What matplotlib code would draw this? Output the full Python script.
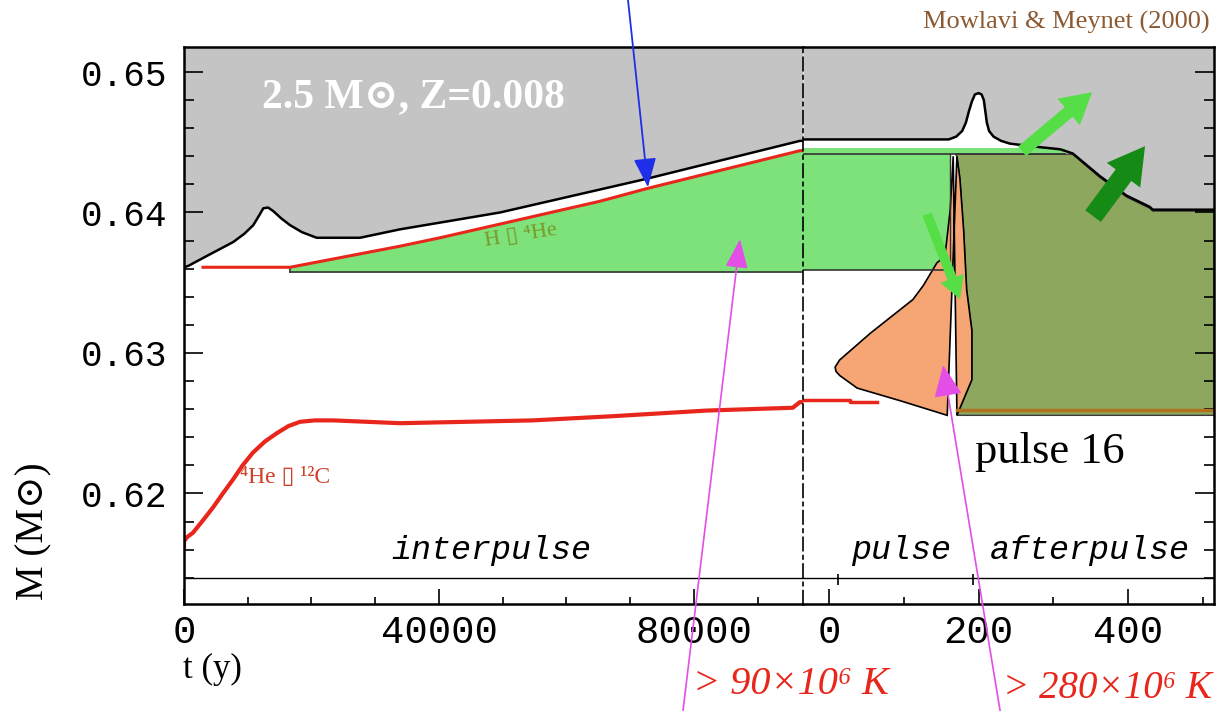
import matplotlib
matplotlib.use('Agg')
import matplotlib.pyplot as plt
from matplotlib.ticker import MultipleLocator, FixedLocator

# ---- interpulse (left panel): t in years, M in solar masses
env_t = [0, 680, 3560, 7730, 9500, 10870, 11800, 12440, 13200, 14000, 15200, 16630, 18500, 20810, 27600, 33880, 49570, 72580, 96630, 97100]
env_m = [0.6361, 0.6362, 0.6369, 0.6379, 0.6385, 0.6391, 0.6398, 0.6403, 0.64035, 0.6401, 0.6396, 0.6391, 0.6386, 0.6382, 0.6382, 0.6388, 0.6400, 0.6424, 0.6451, 0.6451]

hshell_t = [2980, 16630, 33880, 40160, 65250, 72580, 96630, 97100]
hshell_m = [0.6361, 0.6361, 0.6376, 0.6382, 0.6408, 0.6417, 0.6444, 0.6444]
hzone_base = 0.63577

heshell_t = [0, 0, 500, 1400, 3000, 4550, 6100, 7700, 9200, 10800, 12700, 14600, 16400, 18200, 20500, 23400, 33900, 54700, 67300, 82000, 95500, 96600, 97100]
heshell_m = [0.6162, 0.6166, 0.6169, 0.6172, 0.6181, 0.6190, 0.6200, 0.6210, 0.6220, 0.6229, 0.6237, 0.6243, 0.6248, 0.6251, 0.6252, 0.6252, 0.6250, 0.6252, 0.6255, 0.6259, 0.6261, 0.6265, 0.6265]

# ---- pulse + afterpulse (right panel): t in years
env2_t = [-35, 160, 170, 178, 183, 187, 191, 195, 200, 204, 207, 209, 211, 214, 220, 230, 242, 273, 309, 326, 362, 398, 429, 433, 515]
env2_m = [0.6452, 0.6452, 0.6454, 0.6458, 0.6464, 0.6472, 0.6479, 0.6484, 0.6485, 0.6484, 0.6480, 0.6472, 0.6464, 0.6458, 0.6454, 0.6451, 0.6449, 0.6447, 0.6445, 0.6442, 0.6426, 0.6412, 0.6404, 0.6402, 0.6402]

box_t = [-35, 162]
box_bot, box_top, box_line = 0.6359, 0.64457, 0.64415
strip_end = 315

conv_out_t = [166, 162, 155, 144, 126, 112, 55, 14, 8, 9, 14, 37.5, 95, 158]
conv_out_m = [0.6440, 0.6402, 0.6369, 0.6364, 0.6348, 0.6338, 0.6314, 0.6295, 0.6290, 0.6287, 0.6284, 0.6275, 0.6266, 0.62556]
conv_in_t = [171, 191, 191, 184, 180, 175, 171]
conv_in_m = [0.62556, 0.6281, 0.6316, 0.6345, 0.6387, 0.6424, 0.6440]

olive_top_t = [169, 326, 362, 398, 429, 433, 515, 515]
olive_top_m = [0.64415, 0.64415, 0.6425, 0.6411, 0.6403, 0.6401, 0.6401, 0.62556]
brown_t = [171, 515]
brown_m = 0.62592

heshell2_t = [-35, 28, 28, 64]
heshell2_m = [0.62664, 0.62664, 0.62652, 0.62652]

phase_line = 0.614
phase_ticks = [12, 193]

xlim_l = (0, 97100)
xlim_r = (-35, 515)
ylim = (0.61213, 0.65178)

gray = '#c4c4c4'
lgreen = '#7ee27a'
olive = '#8ea75e'
orange = '#f6a574'
red = '#e8261c'

plt.rcParams['font.family'] = ['Liberation Serif', 'DejaVu Serif', 'DejaVu Sans']
mono = 'Liberation Mono'

fig = plt.figure(figsize=(12.25, 7.11), dpi=100)
ax = fig.add_axes([184/1225, 1-604/711, (803-184)/1225, (604-47)/711])
ax2 = fig.add_axes([803/1225, 1-604/711, (1214-803)/1225, (604-47)/711])

for a, xl in ((ax, xlim_l), (ax2, xlim_r)):
    a.set_xlim(xl)
    a.set_ylim(ylim)
    for s in a.spines.values():
        s.set_linewidth(1.8)

ax.spines['right'].set_visible(False)
ax2.spines['left'].set_linestyle((0, (8, 3, 2, 3)))
ax2.spines['left'].set_linewidth(1.2)

# left panel
ax.fill_between(env_t, env_m, ylim[1], color=gray, lw=0)
ax.fill_between(hshell_t[1:], hzone_base, hshell_m[1:], color=lgreen, lw=0)
ax.plot([hshell_t[1], xlim_l[1]], [hzone_base, hzone_base], color='#333333', lw=1.2)
ax.plot([hshell_t[1], hshell_t[1]], [hzone_base, hshell_m[1]], color='#333333', lw=1.2)
ax.plot(env_t, env_m, color='black', lw=1.8)
ax.plot(hshell_t, hshell_m, color=red, lw=2.2)
ax.plot(heshell_t, heshell_m, color=red, lw=3)
ax.axhline(phase_line, color='black', lw=1)

# right panel
ax2.fill_between(env2_t, env2_m, ylim[1], color=gray, lw=0)
ax2.fill_between(box_t, box_bot, box_top, color=lgreen, lw=0)
ax2.fill_between([box_t[0], strip_end], box_line, box_top, color=lgreen, lw=0)
ax2.fill(olive_top_t + conv_in_t, olive_top_m + conv_in_m, facecolor=olive, edgecolor='#3a3a3a', lw=1)
ax2.fill(conv_out_t + conv_in_t[::-1], conv_out_m + conv_in_m[::-1], facecolor=orange, edgecolor='black', lw=1.2)
ax2.plot([box_t[0], box_t[1]], [box_bot, box_bot], color='#333333', lw=1.2)
ax2.plot([box_t[1], box_t[1]], [box_bot + 0.0004, box_line], color='#333333', lw=1)
ax2.plot([box_t[0], strip_end], [box_line, box_line], color='#333333', lw=1.2)
ax2.plot(brown_t, [brown_m, brown_m], color='#b0701e', lw=2.5)
ax2.plot(env2_t, env2_m, color='black', lw=1.8)
ax2.plot(heshell2_t, heshell2_m, color=red, lw=2.5)
ax2.axhline(phase_line, color='black', lw=1)
ax2.vlines(phase_ticks, phase_line - 0.0005, phase_line + 0.0003, color='black', lw=1.2)

# ticks
ax.xaxis.set_major_locator(FixedLocator([0, 40000, 80000]))
ax.xaxis.set_minor_locator(MultipleLocator(10000))
ax.yaxis.set_major_locator(MultipleLocator(0.01))
ax.yaxis.set_minor_locator(MultipleLocator(0.002))
ax.yaxis.set_major_formatter(matplotlib.ticker.FormatStrFormatter('%.2f'))
ax.tick_params(axis='y', which='major', direction='in', length=14, width=1.2, pad=12, labelsize=26)
ax.tick_params(axis='y', which='minor', direction='in', length=7, width=1.2)
ax.tick_params(axis='x', which='major', direction='in', length=11, width=1.2, pad=8, labelsize=28)
ax.tick_params(axis='x', which='minor', direction='in', length=5, width=1.2)

ax2.xaxis.set_major_locator(FixedLocator([0, 200, 400]))
ax2.xaxis.set_minor_locator(MultipleLocator(100))
ax2.yaxis.set_major_locator(MultipleLocator(0.01))
ax2.yaxis.set_minor_locator(MultipleLocator(0.002))
ax2.tick_params(axis='y', which='both', left=False, right=True, labelleft=False, direction='in', width=1.2)
ax2.tick_params(axis='y', which='major', length=14)
ax2.tick_params(axis='y', which='minor', length=7)
ax2.tick_params(axis='x', which='major', direction='in', length=11, width=1.2, pad=8, labelsize=28)
ax2.tick_params(axis='x', which='minor', direction='in', length=5, width=1.2)

for a in (ax, ax2):
    for lab in a.get_xticklabels() + a.get_yticklabels():
        lab.set_family(mono)

# labels inside the plot
ax.text(12235, 0.64822, '2.5 M\u2299, Z=0.008', color='white', weight='bold', size=30, ha='left', va='center')
ax.text(52860, 0.63831, 'H \u25af \u2074He', color='#7a9a2a', size=16, ha='center', va='center', rotation=9)
ax.text(8780, 0.62116, '\u2074He \u25af \u00b9\u00b2C', color='#d0402a', size=17, ha='left', va='center')
ax.text(48200, 0.61597, 'interpulse', family=mono, style='italic', size=24, ha='center', va='center')
ax2.text(96, 0.61597, 'pulse', family=mono, style='italic', size=24, ha='center', va='center')
ax2.text(349, 0.61597, 'afterpulse', family=mono, style='italic', size=24, ha='center', va='center')
ax2.text(195, 0.62294, 'pulse 16', size=32, ha='left', va='center')

# arrows
ax.annotate('', xy=(72780, 0.6418), xytext=(69650, 0.65512), annotation_clip=False,
            arrowprops=dict(arrowstyle='-|>,head_length=0.9,head_width=0.35', color='#1f2ee8', lw=1.3, mutation_scale=20, shrinkA=0, shrinkB=0))
ax.annotate('', xy=(87220, 0.6381), xytext=(78270, 0.60452), annotation_clip=False,
            arrowprops=dict(arrowstyle='-|>,head_length=0.9,head_width=0.35', color='#e24ee6', lw=1.2, mutation_scale=20, shrinkA=0, shrinkB=0))
ax2.annotate('', xy=(152.5, 0.62913), xytext=(228.8, 0.60452), annotation_clip=False,
             arrowprops=dict(arrowstyle='-|>,head_length=0.9,head_width=0.4', color='#e24ee6', lw=1.2, mutation_scale=22, shrinkA=0, shrinkB=0))
ax2.annotate('', xy=(351.8, 0.64856), xytext=(258.2, 0.64436),
             arrowprops=dict(facecolor='#55de46', edgecolor='none', width=9, headwidth=25, headlength=22, shrink=0))
ax2.annotate('', xy=(175.3, 0.63383), xytext=(131, 0.63988),
             arrowprops=dict(facecolor='#55de46', edgecolor='none', width=7, headwidth=18, headlength=16, shrink=0))
ax2.annotate('', xy=(422.7, 0.64472), xytext=(353.2, 0.63974),
             arrowprops=dict(facecolor='#158a15', edgecolor='none', width=14, headwidth=30, headlength=26, shrink=0))

# labels outside the frame
fig.text(1210/1225, 1-22/711, 'Mowlavi & Meynet (2000)', color='#8c5a32', size=19, ha='right', va='center')
fig.text(34/1225, 1-531/711, 'M (M\u2299)', size=28, rotation=90, ha='center', va='center')
fig.text(183/1225, 1-669/711, 't (y)', size=25, ha='left', va='center')
fig.text(693/1225, 1-685/711, '> 90\u00d710\u2076 K', color=red, style='italic', size=29, ha='left', va='center')
fig.text(1003/1225, 1-688/711, '> 280\u00d710\u2076 K', color=red, style='italic', size=28, ha='left', va='center')

fig.savefig('out.png', dpi=100)
